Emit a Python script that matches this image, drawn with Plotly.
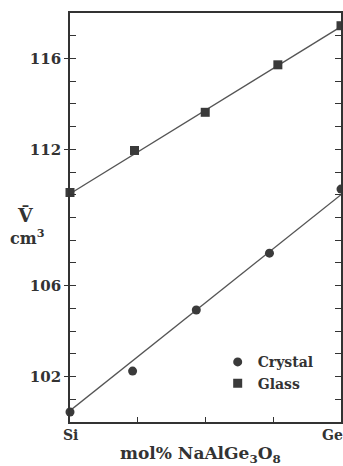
import plotly.graph_objects as go

# Data
crystal_x = [0, 23.1, 46.6, 73.6, 100]
crystal_v = [100.44, 102.24, 104.93, 107.43, 110.25]
glass_x = [0, 23.8, 49.9, 76.7, 100]
glass_v = [110.1, 111.95, 113.63, 115.72, 117.44]
# fitted lines (endpoints)
fit_x = [0, 100]
crystal_fit = [100.5, 110.0]
glass_fit = [110.05, 117.4]

ytick_vals = [102, 106, 112, 116]
ytick_text = ["102", "106", "112", "116"]
yminor_vals = list(range(101, 118))
xend_vals = [0, 100]
xend_text = ["Si", "Ge"]
xminor_vals = [25, 50, 75]

FONT = "DejaVu Serif"
INK = "#333333"

fig = go.Figure()
fig.add_trace(go.Scatter(x=fit_x, y=crystal_fit, mode="lines",
                         line=dict(color="#555555", width=1.3), showlegend=False, hoverinfo="skip"))
fig.add_trace(go.Scatter(x=fit_x, y=glass_fit, mode="lines",
                         line=dict(color="#555555", width=1.3), showlegend=False, hoverinfo="skip"))
fig.add_trace(go.Scatter(x=crystal_x, y=crystal_v, mode="markers", name="Crystal",
                         marker=dict(symbol="circle", size=9, color="#3a3a3a"), cliponaxis=False))
fig.add_trace(go.Scatter(x=glass_x, y=glass_v, mode="markers", name="Glass",
                         marker=dict(symbol="square", size=9, color="#3a3a3a"), cliponaxis=False))

annotations = [
    dict(text="V\u0304", x=-0.163, y=0.506, xref="paper", yref="paper", showarrow=False,
         font=dict(family=FONT, size=19, color=INK, weight="bold"), xanchor="center", yanchor="middle"),
    dict(text="cm<sup>3</sup>", x=-0.155, y=0.452, xref="paper", yref="paper", showarrow=False,
         font=dict(family=FONT, size=16, color=INK, weight="bold"), xanchor="center", yanchor="middle"),
    dict(text="mol% NaAlGe<sub>3</sub>O<sub>8</sub>", x=0.48, y=-0.08, xref="paper", yref="paper",
         showarrow=False, font=dict(family=FONT, size=17, color=INK, weight="bold"),
         xanchor="center", yanchor="middle"),
]
for xv, txt in zip(xend_vals, xend_text):
    annotations.append(dict(text=txt, x=xv, y=-0.032, xref="x", yref="paper", showarrow=False,
                            xanchor="center" if xv == 0 else "right", xshift=0 if xv == 0 else 4,
                            yanchor="middle",
                            font=dict(family=FONT, size=14, color=INK, weight="bold")))

fig.update_layout(
    width=343, height=466,
    margin=dict(l=70, r=2, t=13, b=44),
    paper_bgcolor="white", plot_bgcolor="white",
    font=dict(family=FONT, color=INK, size=13),
    showlegend=True,
    legend=dict(x=0.545, y=0.185, xanchor="left", yanchor="top",
                bgcolor="rgba(0,0,0,0)", font=dict(family=FONT, size=14, color=INK, weight="bold"),
                itemsizing="trace"),
    xaxis=dict(range=[0, 100], showgrid=False, zeroline=False, automargin=False,
               showline=True, linecolor=INK, linewidth=1.8, mirror=True,
               tickvals=xminor_vals, showticklabels=False, ticks="inside", ticklen=5,
               tickwidth=1.2, tickcolor=INK),
    yaxis=dict(range=[100, 118], showgrid=False, zeroline=False, automargin=False,
               showline=True, linecolor=INK, linewidth=1.8, mirror="ticks",
               tickvals=ytick_vals, ticktext=ytick_text, ticks="outside", ticklen=4,
               tickwidth=1.2, tickcolor=INK,
               tickfont=dict(family=FONT, size=15, color=INK, weight="bold"),
               minor=dict(tickvals=yminor_vals, ticks="inside", ticklen=6, tickwidth=1.2, tickcolor=INK)),
    annotations=annotations,
)

fig.write_html("out.html")
